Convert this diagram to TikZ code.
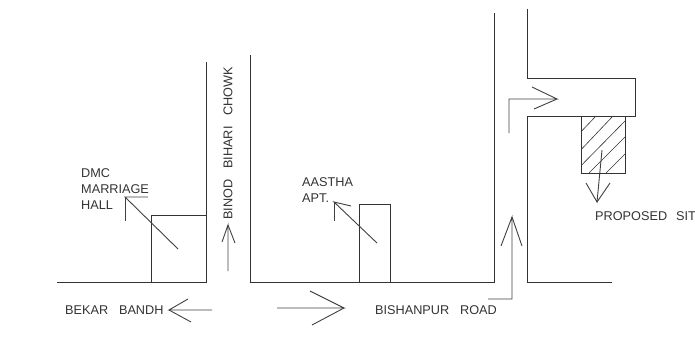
\documentclass[tikz,border=0pt]{standalone}
\usepackage{fontspec}
\setmainfont{Liberation Sans}
\tikzset{
  wall/.style={draw=black!80,line width=0.9pt},
  ptr/.style={draw=black!75,line width=0.9pt},
  hatchline/.style={draw=black!80,line width=0.6pt},
  lab/.style={inner sep=0pt,anchor=west,text=black!80,font=\fontsize{12.7}{14}\selectfont,align=left}
}
\begin{document}
\begin{tikzpicture}[x=1pt,y=-1pt]
\useasboundingbox (0,0) rectangle (695,337);
% roads
\draw[wall] (57,282) -- (206,282) -- (206,62);
\draw[wall] (250,55) -- (250,282) -- (494.5,282) -- (494.5,13);
\draw[wall] (527,9) -- (527,78) -- (635,78) -- (635,116) -- (527,116) -- (527,282) -- (612,282);
% buildings
\draw[wall] (151.5,282) -- (151.5,215) -- (206,215);
\draw[wall] (359.5,282) -- (359.5,204) -- (390,204) -- (390,282);
% proposed site
\draw[hatchline] (581.7,131) -- (596,116);
\draw[hatchline] (581.7,149) -- (613,116);
\draw[hatchline] (581.7,165) -- (625,121);
\draw[hatchline] (589,173) -- (625,137);
\draw[hatchline] (606,173) -- (625,154);
\draw[wall] (581.7,116) rectangle (625,173);
% pointers
\draw[ptr] (178,249) -- (125,197) -- (148,197);
\draw[ptr] (125,197) -- (125,221);
\draw[ptr] (377,243) -- (334,202) -- (351,206);
\draw[ptr] (334,202) -- (334,221);
\draw[ptr] (602,150) -- (597,202) -- (586,183);
\draw[ptr] (597,202) -- (610,183);
% direction arrows
\draw[ptr] (212,310) -- (169,310) -- (188,299);
\draw[ptr] (169,310) -- (191,322);
\draw[ptr] (228,271) -- (228,225) -- (222,242);
\draw[ptr] (228,225) -- (235,243);
\draw[ptr] (277,308) -- (344,308) -- (310,291);
\draw[ptr] (344,308) -- (312,325);
\draw[ptr] (488,299) -- (512,299) -- (512,217) -- (501,246);
\draw[ptr] (512,217) -- (522,246);
\draw[ptr] (509,133) -- (509,99) -- (557,99) -- (532,87);
\draw[ptr] (557,99) -- (534,109);
% labels
\node[lab] (dmc) at (81,173) {DMC};
\node[lab] (marriage) at (81,189) {MARRIAGE};
\node[lab] (hall) at (81,205) {HALL};
\node[lab] (aastha) at (302,182) {AASTHA};
\node[lab] (apt) at (302,198) {APT.};
\node[lab] (bekar) at (65,310) {BEKAR\hspace{0.85em}BANDH};
\node[lab] (bishanpur) at (375,310) {BISHANPUR\hspace{0.85em}ROAD};
\node[lab] (proposed) at (595,216) {PROPOSED\hspace{0.7em}SIT};
\node[lab,rotate=90] (binod) at (228,220) {BINOD\hspace{0.85em}BIHARI\hspace{0.85em}CHOWK};
\end{tikzpicture}
\end{document}
